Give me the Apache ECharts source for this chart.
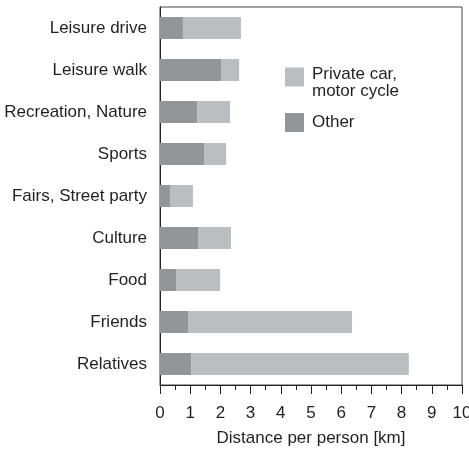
<!DOCTYPE html>
<html>
<head>
<meta charset="utf-8">
<script src="https://cdn.jsdelivr.net/npm/echarts@6/dist/echarts.min.js"></script>
<style>html,body{margin:0;padding:0;background:#fff;}#c{width:469px;height:450px;}</style>
</head>
<body>
<div id="c"></div>
<script>
var categories = ['Leisure drive','Leisure walk','Recreation, Nature','Sports','Fairs, Street party','Culture','Food','Friends','Relatives'];
var otherValues = [0.76, 2.02, 1.23, 1.46, 0.33, 1.26, 0.53, 0.93, 1.03];
var privateCarValues = [1.92, 0.60, 1.09, 0.73, 0.76, 1.09, 1.46, 5.43, 7.21];
var xTickLabels = ['0','1','2','3','4','5','6','7','8','9','10'];
var seriesNames = ['Other', 'Private car,\nmotor cycle'];

var FONT = 'Liberation Sans';
var TXT = '#231f20';
var chart = echarts.init(document.getElementById('c'));
chart.setOption({
  animation: false,
  backgroundColor: '#fff',
  textStyle: { fontFamily: FONT, color: TXT },
  grid: { left: 160, right: 7, top: 7, bottom: 65, show: true, borderColor: '#444', borderWidth: 1,
    containLabel: false, outerBoundsMode: 'none' },
  legend: {
    orient: 'vertical', left: 280, top: 49, itemWidth: 19, itemHeight: 19, itemGap: 13,
    icon: 'rect', selectedMode: false,
    data: [seriesNames[1], seriesNames[0]],
    textStyle: {
      fontFamily: FONT, fontSize: 17, color: TXT,
      rich: {
        sp: { height: 12, lineHeight: 12, fontSize: 1 },
        t: { fontFamily: FONT, fontSize: 17, lineHeight: 17, color: TXT, padding: [0, 0, 0, 3] }
      }
    },
    formatter: function (name) {
      var lines = name.split('\n');
      var s = lines.map(function (l) { return '{t|' + l + '}'; }).join('\n');
      return lines.length > 1 ? '{sp|}\n' + s : s;
    }
  },
  xAxis: {
    type: 'value', min: 0, max: 10, interval: 1,
    name: 'Distance per person [km]', nameLocation: 'middle', nameGap: 45,
    nameTextStyle: { fontFamily: FONT, fontSize: 17, color: TXT },
    axisLine: { show: true, lineStyle: { color: '#222', width: 1 } },
    axisTick: { show: true, length: 9, lineStyle: { color: '#222' } },
    minorTick: { show: true, splitNumber: 2, length: 5, lineStyle: { color: '#222' } },
    splitLine: { show: false },
    axisLabel: { margin: 20, fontFamily: FONT, fontSize: 17, color: TXT,
      formatter: function (v) { return xTickLabels[Math.round(v)]; } }
  },
  yAxis: {
    type: 'category', inverse: true, data: categories,
    axisLine: { show: true, lineStyle: { color: '#222', width: 1 } },
    axisTick: { show: false },
    axisLabel: { margin: 13, fontFamily: FONT, fontSize: 17, color: TXT }
  },
  series: [
    { name: seriesNames[0], type: 'bar', stack: 't', barWidth: 22, data: otherValues, itemStyle: { color: '#949598' } },
    { name: seriesNames[1], type: 'bar', stack: 't', barWidth: 22, data: privateCarValues, itemStyle: { color: '#bcbdc1' } }
  ]
});
</script>
</body>
</html>
